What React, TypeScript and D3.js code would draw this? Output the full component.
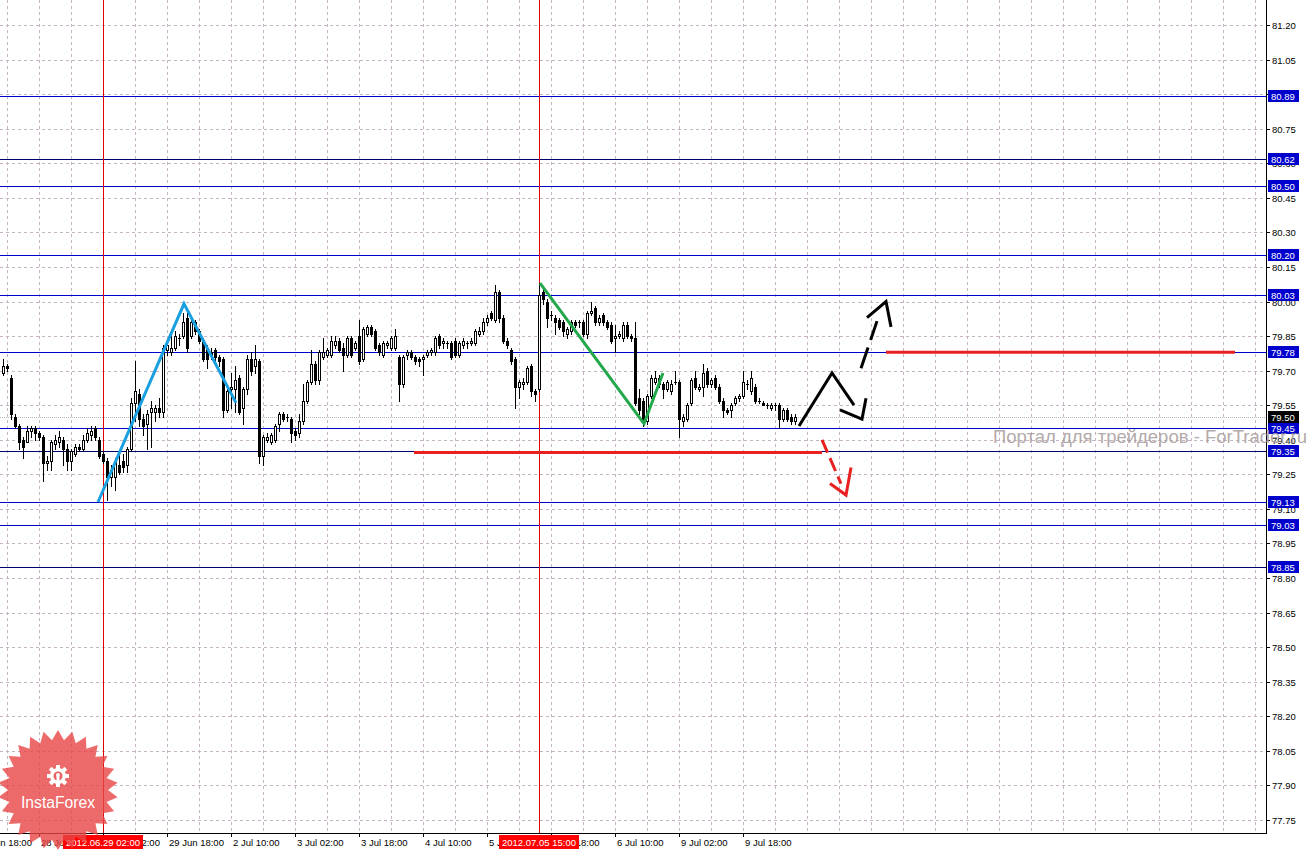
import React from "react";
import * as d3 from "d3";

const W = 1309;
const H = 850;
const PLOT_RIGHT = 1266;
const PLOT_BOTTOM = 833;

// Hourly USD/JPY bars [open, high, low, close], 28 Jun 2012 01:00 ... 10 Jul 2012 07:00
const candles: [number, number, number, number][] = [
  [79.69, 79.75, 79.68, 79.72], [79.72, 79.73, 79.70, 79.71], [79.67, 79.68, 79.49, 79.51], [79.50, 79.51, 79.45, 79.46],
  [79.46, 79.47, 79.36, 79.39], [79.40, 79.41, 79.32, 79.37], [79.39, 79.46, 79.39, 79.44], [79.44, 79.46, 79.41, 79.45],
  [79.45, 79.46, 79.40, 79.43], [79.43, 79.44, 79.40, 79.41], [79.41, 79.42, 79.22, 79.30], [79.30, 79.33, 79.27, 79.31],
  [79.31, 79.40, 79.27, 79.39], [79.38, 79.42, 79.36, 79.40], [79.39, 79.44, 79.37, 79.41], [79.40, 79.41, 79.29, 79.36],
  [79.36, 79.38, 79.27, 79.31], [79.31, 79.36, 79.27, 79.35], [79.34, 79.38, 79.33, 79.37], [79.37, 79.38, 79.35, 79.36],
  [79.36, 79.42, 79.35, 79.40], [79.40, 79.45, 79.39, 79.43], [79.42, 79.46, 79.40, 79.44], [79.45, 79.46, 79.40, 79.41],
  [79.40, 79.41, 79.32, 79.33], [79.34, 79.35, 79.30, 79.31], [79.31, 79.32, 79.14, 79.24], [79.24, 79.29, 79.20, 79.27],
  [79.24, 79.32, 79.18, 79.31], [79.29, 79.34, 79.25, 79.26], [79.31, 79.34, 79.26, 79.28], [79.29, 79.37, 79.26, 79.36],
  [79.36, 79.58, 79.35, 79.56], [79.56, 79.74, 79.48, 79.61], [79.60, 79.62, 79.46, 79.49], [79.49, 79.51, 79.42, 79.46],
  [79.47, 79.53, 79.36, 79.51], [79.52, 79.57, 79.37, 79.54], [79.52, 79.55, 79.48, 79.54], [79.54, 79.58, 79.50, 79.52],
  [79.52, 79.81, 79.50, 79.80], [79.79, 79.83, 79.77, 79.81], [79.78, 79.87, 79.77, 79.80], [79.80, 79.87, 79.79, 79.85],
  [79.84, 79.86, 79.81, 79.84], [79.85, 79.95, 79.84, 79.91], [79.93, 79.96, 79.78, 79.80], [79.85, 79.93, 79.84, 79.91],
  [79.91, 79.92, 79.86, 79.87], [79.87, 79.88, 79.82, 79.83], [79.83, 79.84, 79.74, 79.75], [79.80, 79.81, 79.71, 79.75],
  [79.78, 79.80, 79.75, 79.77], [79.79, 79.80, 79.74, 79.76], [79.76, 79.77, 79.72, 79.74], [79.75, 79.76, 79.50, 79.53],
  [79.53, 79.62, 79.52, 79.61], [79.62, 79.69, 79.54, 79.63], [79.62, 79.72, 79.52, 79.66], [79.67, 79.68, 79.51, 79.52],
  [79.54, 79.63, 79.47, 79.62], [79.62, 79.77, 79.60, 79.75], [79.75, 79.78, 79.68, 79.70], [79.72, 79.81, 79.69, 79.75],
  [79.74, 79.75, 79.30, 79.33], [79.33, 79.42, 79.29, 79.41], [79.40, 79.43, 79.39, 79.41], [79.39, 79.43, 79.38, 79.42],
  [79.40, 79.47, 79.39, 79.46], [79.47, 79.52, 79.44, 79.51], [79.51, 79.52, 79.48, 79.49], [79.50, 79.51, 79.48, 79.50],
  [79.49, 79.50, 79.39, 79.43], [79.44, 79.45, 79.40, 79.42], [79.43, 79.51, 79.41, 79.48], [79.48, 79.64, 79.47, 79.57],
  [79.57, 79.66, 79.56, 79.65], [79.65, 79.79, 79.64, 79.73], [79.73, 79.74, 79.64, 79.66], [79.66, 79.79, 79.64, 79.78],
  [79.76, 79.84, 79.75, 79.78], [79.77, 79.80, 79.76, 79.79], [79.77, 79.85, 79.76, 79.83], [79.81, 79.85, 79.80, 79.83],
  [79.83, 79.84, 79.78, 79.79], [79.80, 79.82, 79.70, 79.77], [79.77, 79.85, 79.76, 79.84], [79.84, 79.85, 79.76, 79.77],
  [79.80, 79.83, 79.79, 79.82], [79.85, 79.92, 79.73, 79.74], [79.75, 79.89, 79.74, 79.88], [79.86, 79.90, 79.85, 79.89],
  [79.89, 79.90, 79.85, 79.86], [79.87, 79.88, 79.79, 79.80], [79.81, 79.82, 79.77, 79.78], [79.77, 79.83, 79.76, 79.82],
  [79.81, 79.83, 79.80, 79.82], [79.80, 79.85, 79.79, 79.84], [79.80, 79.88, 79.79, 79.85], [79.76, 79.77, 79.57, 79.64],
  [79.64, 79.77, 79.63, 79.76], [79.77, 79.79, 79.75, 79.78], [79.78, 79.79, 79.75, 79.76], [79.76, 79.77, 79.73, 79.74],
  [79.75, 79.76, 79.72, 79.74], [79.75, 79.77, 79.68, 79.76], [79.77, 79.79, 79.76, 79.78], [79.78, 79.80, 79.77, 79.79],
  [79.78, 79.85, 79.77, 79.84], [79.85, 79.86, 79.80, 79.81], [79.82, 79.84, 79.80, 79.83], [79.82, 79.83, 79.80, 79.82],
  [79.82, 79.83, 79.75, 79.76], [79.83, 79.84, 79.76, 79.77], [79.77, 79.83, 79.76, 79.82], [79.81, 79.84, 79.80, 79.83],
  [79.82, 79.83, 79.80, 79.82], [79.82, 79.84, 79.81, 79.83], [79.82, 79.88, 79.81, 79.87], [79.86, 79.89, 79.85, 79.87],
  [79.87, 79.93, 79.86, 79.91], [79.91, 79.94, 79.90, 79.93], [79.95, 79.96, 79.92, 79.93], [79.92, 80.07, 79.91, 80.04],
  [80.04, 80.05, 79.91, 79.93], [79.93, 79.94, 79.82, 79.83], [79.83, 79.84, 79.80, 79.81], [79.79, 79.80, 79.73, 79.74],
  [79.75, 79.76, 79.54, 79.63], [79.63, 79.66, 79.58, 79.65], [79.64, 79.67, 79.62, 79.65], [79.65, 79.72, 79.64, 79.71],
  [79.72, 79.73, 79.59, 79.61], [79.61, 79.62, 79.57, 79.60], [79.62, 80.08, 79.61, 80.03], [80.04, 80.06, 79.99, 80.01],
  [80.00, 80.01, 79.89, 79.93], [79.94, 79.96, 79.92, 79.94], [79.93, 79.94, 79.86, 79.91], [79.92, 79.93, 79.88, 79.89],
  [79.91, 79.92, 79.85, 79.87], [79.86, 79.89, 79.84, 79.88], [79.87, 79.92, 79.86, 79.91], [79.91, 79.92, 79.89, 79.90],
  [79.91, 79.92, 79.89, 79.91], [79.91, 79.92, 79.85, 79.86], [79.86, 79.96, 79.84, 79.95], [79.95, 80.00, 79.94, 79.96],
  [79.97, 79.98, 79.90, 79.91], [79.91, 79.94, 79.90, 79.93], [79.94, 79.95, 79.90, 79.91], [79.91, 79.92, 79.88, 79.89],
  [79.90, 79.91, 79.82, 79.83], [79.84, 79.90, 79.78, 79.85], [79.85, 79.87, 79.84, 79.86], [79.84, 79.91, 79.83, 79.90],
  [79.90, 79.91, 79.84, 79.85], [79.85, 79.86, 79.83, 79.84], [79.84, 79.91, 79.55, 79.56], [79.58, 79.62, 79.51, 79.53],
  [79.57, 79.58, 79.46, 79.49], [79.48, 79.60, 79.47, 79.59], [79.59, 79.68, 79.58, 79.67], [79.65, 79.70, 79.64, 79.67],
  [79.67, 79.68, 79.63, 79.64], [79.64, 79.65, 79.58, 79.62], [79.62, 79.66, 79.61, 79.65], [79.61, 79.66, 79.60, 79.64],
  [79.65, 79.70, 79.64, 79.65], [79.65, 79.66, 79.41, 79.49], [79.48, 79.51, 79.46, 79.50], [79.49, 79.56, 79.48, 79.55],
  [79.56, 79.67, 79.55, 79.66], [79.67, 79.70, 79.62, 79.63], [79.62, 79.64, 79.61, 79.63], [79.63, 79.73, 79.59, 79.69],
  [79.70, 79.71, 79.63, 79.64], [79.64, 79.67, 79.63, 79.66], [79.67, 79.68, 79.62, 79.63], [79.63, 79.64, 79.56, 79.57],
  [79.57, 79.58, 79.50, 79.53], [79.53, 79.54, 79.51, 79.52], [79.53, 79.56, 79.50, 79.55], [79.56, 79.59, 79.55, 79.58],
  [79.58, 79.60, 79.57, 79.59], [79.59, 79.70, 79.58, 79.65], [79.64, 79.66, 79.62, 79.64], [79.61, 79.70, 79.60, 79.67],
  [79.63, 79.64, 79.56, 79.57], [79.57, 79.58, 79.56, 79.57], [79.56, 79.57, 79.55, 79.55], [79.55, 79.56, 79.54, 79.55],
  [79.54, 79.56, 79.53, 79.55], [79.55, 79.56, 79.53, 79.55], [79.55, 79.56, 79.45, 79.49], [79.49, 79.54, 79.48, 79.53],
  [79.53, 79.54, 79.48, 79.49], [79.50, 79.51, 79.47, 79.48], [79.48, 79.51, 79.47, 79.50],
];

// Price axis tick labels
const priceTicks = [
  "77.75", "77.90", "78.05", "78.20", "78.35", "78.50", "78.65", "78.80", "78.95", "79.10", "79.25", "79.40",
  "79.55", "79.70", "79.85", "80.00", "80.15", "80.30", "80.45", "80.60", "80.75", "80.90", "81.05", "81.20",
];

// Time axis labels: [bar index, label]
const timeTicks: [number, string][] = [
  [-7, "27 Jun 18:00"], [9, "28 Jun 10:00"], [25, "29 Jun 02:00"], [41, "29 Jun 18:00"], [57, "2 Jul 10:00"],
  [73, "3 Jul 02:00"], [89, "3 Jul 18:00"], [105, "4 Jul 10:00"], [121, "5 Jul 02:00"], [137, "5 Jul 18:00"],
  [153, "6 Jul 10:00"], [169, "9 Jul 02:00"], [185, "9 Jul 18:00"],
];

// Vertical marker lines: [bar index, label]
const markerLines: [number, string][] = [
  [25, "2012.06.29 02:00"],
  [134, "2012.07.05 15:00"],
];

// Horizontal levels
const levelPrices = [80.89, 80.62, 80.5, 80.2, 80.03, 79.78, 79.45, 79.35, 79.13, 79.03, 78.85];
const darkLevels = [80.62, 79.35, 78.85];
const bidPrice = 79.5;

// Drawn analysis lines, in [bar index, price]
const blueWave: [number, number][] = [[23.75, 79.13], [45.25, 79.99], [58.25, 79.56]];
const greenWave: [number, number][] = [[134.25, 80.08], [160.25, 79.47], [165, 79.69]];
const blackZig: [number, number][] = [[199, 79.46], [207.25, 79.69], [212.75, 79.55]];
const blackHeadLow: [number, number][] = [[209.25, 79.53], [214.75, 79.49], [215.75, 79.58]];
const blackDash: [number, number][] = [[214.5, 79.71], [218.5, 79.915]];
const blackHeadUp: [number, number][] = [[216, 79.93], [220.75, 80.0], [222, 79.89]];
const redDash: [number, number][] = [[204.75, 79.4], [209.5, 79.21]];
const redHead: [number, number][] = [[206.75, 79.21], [210.75, 79.16], [212, 79.28]];
const redLevelHigh: [number, number][] = [[220.75, 79.78], [308, 79.78]];
const redLevelLow: [number, number][] = [[102.75, 79.345], [204.75, 79.345]];

const x = d3.scaleLinear().domain([0, 198]).range([3, 795]);
const y = d3.scaleLinear().domain([77.75, 81.2]).range([820, 25]);
const lineGen = d3
  .line<[number, number]>()
  .x((d) => x(d[0]))
  .y((d) => y(d[1]));

const gridColor = "#c4b4c4";
const blue = "#0000cd";

function starPoints(cx: number, cy: number, rOut: number, rIn: number, n: number) {
  const pts: string[] = [];
  for (let i = 0; i < n * 2; i++) {
    const r = i % 2 === 0 ? rOut : rIn;
    const a = (Math.PI * i) / n - Math.PI / 2;
    pts.push(`${cx + r * Math.cos(a)},${cy + r * Math.sin(a)}`);
  }
  return pts.join(" ");
}

export default function App() {
  const vGrid: number[] = [];
  for (let k = 1; x(k) < PLOT_RIGHT; k += 8) vGrid.push(k);

  const font = "'Liberation Sans', Arial, sans-serif";

  return (
    <svg
      width={W}
      height={H}
      style={{ position: "absolute", left: 0, top: 0, background: "#fff" }}
      fontFamily={font}
    >
      <rect x={0} y={0} width={W} height={H} fill="#fff" />
      {/* grid */}
      {priceTicks.map((t) => {
        const yy = Math.round(y(+t)) + 0.5;
        return <line key={"hg" + t} x1={0} x2={PLOT_RIGHT} y1={yy} y2={yy} stroke={gridColor} strokeDasharray="3,3" />;
      })}
      {vGrid.map((k) => {
        const xx = Math.round(x(k)) + 0.5;
        return <line key={"vg" + k} x1={xx} x2={xx} y1={0} y2={PLOT_BOTTOM} stroke={gridColor} strokeDasharray="3,3" />;
      })}

      {/* bid line */}
      <line
        x1={0}
        x2={PLOT_RIGHT}
        y1={Math.round(y(bidPrice)) + 0.5}
        y2={Math.round(y(bidPrice)) + 0.5}
        stroke="#b8b8b8"
        strokeDasharray="1,1"
      />

      {/* horizontal levels */}
      {levelPrices.map((p) => {
        const yy = Math.round(y(p)) + 0.5;
        return (
          <line key={"lv" + p} x1={0} x2={PLOT_RIGHT} y1={yy} y2={yy} stroke={darkLevels.includes(p) ? "#000070" : blue} strokeWidth={1} />
        );
      })}

      {/* marker vertical lines */}
      {markerLines.map(([k]) => {
        const xx = Math.round(x(k)) + 0.5;
        return <line key={"ml" + k} x1={xx} x2={xx} y1={0} y2={PLOT_BOTTOM} stroke="#e00000" />;
      })}

      {/* candles */}
      {candles.map(([o, h, l, c], i) => {
        const cx = Math.round(x(i));
        const yo = Math.round(y(o));
        const yc = Math.round(y(c));
        const top = Math.min(yo, yc);
        const bot = Math.max(yo, yc);
        const bull = c >= o;
        return (
          <g key={"c" + i}>
            <line x1={cx + 0.5} x2={cx + 0.5} y1={Math.round(y(h))} y2={Math.round(y(l)) + 1} stroke="#000" />
            {bot - top < 1 ? (
              <rect x={cx - 1} y={top} width={3} height={1} fill="#000" />
            ) : bull ? (
              <rect x={cx - 0.5} y={top + 0.5} width={2} height={bot - top} fill="#fff" stroke="#000" />
            ) : (
              <rect x={cx - 1} y={top} width={3} height={bot - top + 1} fill="#000" />
            )}
          </g>
        );
      })}

      {/* analysis lines */}
      <path d={lineGen(blueWave) || ""} fill="none" stroke="#1a9fe0" strokeWidth={3} />
      <path d={lineGen(greenWave) || ""} fill="none" stroke="#22a84a" strokeWidth={3} />
      <path d={lineGen(redLevelHigh) || ""} fill="none" stroke="#e82020" strokeWidth={3} />
      <path d={lineGen(redLevelLow) || ""} fill="none" stroke="#e82020" strokeWidth={3} />
      <path d={lineGen(blackZig) || ""} fill="none" stroke="#000" strokeWidth={3} />
      <path d={lineGen(blackHeadLow) || ""} fill="none" stroke="#000" strokeWidth={3} />
      <path d={lineGen(blackDash) || ""} fill="none" stroke="#000" strokeWidth={3} strokeDasharray="22,8" />
      <path d={lineGen(blackHeadUp) || ""} fill="none" stroke="#000" strokeWidth={3} />
      <path d={lineGen(redDash) || ""} fill="none" stroke="#e82020" strokeWidth={3} strokeDasharray="14,6" />
      <path d={lineGen(redHead) || ""} fill="none" stroke="#e82020" strokeWidth={3} />

      {/* axes */}
      <line x1={PLOT_RIGHT + 0.5} x2={PLOT_RIGHT + 0.5} y1={0} y2={PLOT_BOTTOM + 1} stroke="#000" />
      <line x1={0} x2={PLOT_RIGHT + 1} y1={PLOT_BOTTOM + 0.5} y2={PLOT_BOTTOM + 0.5} stroke="#000" />

      {priceTicks.map((t) => {
        const yy = Math.round(y(+t));
        return (
          <g key={"pt" + t}>
            <line x1={PLOT_RIGHT} x2={PLOT_RIGHT + 4} y1={yy + 0.5} y2={yy + 0.5} stroke="#000" />
            <text x={1272} y={yy + 4} fontSize={9.5} fill="#000">
              {t}
            </text>
          </g>
        );
      })}

      {levelPrices.map((p) => {
        const yy = Math.round(y(p));
        return (
          <g key={"lb" + p}>
            <rect x={1268} y={yy - 6} width={31} height={12} fill={blue} />
            <text x={1271} y={yy + 4} fontSize={9.5} fill="#fff">
              {p.toFixed(2)}
            </text>
          </g>
        );
      })}
      <g>
        <rect x={1268} y={Math.round(y(bidPrice)) - 6} width={31} height={12} fill="#000" />
        <text x={1271} y={Math.round(y(bidPrice)) + 4} fontSize={9.5} fill="#fff">
          {bidPrice.toFixed(2)}
        </text>
      </g>

      {/* watermark */}
      <text
        x={993}
        y={443}
        fontSize={18.5}
        fill="#aa9e9e"
        fillOpacity={0.9}
        textLength={314}
        lengthAdjust="spacingAndGlyphs"
      >
        Портал для трейдеров - ForTrader.ru
      </text>

      {timeTicks.map(([k, label]) => {
        const xx = Math.round(x(k));
        return (
          <g key={"tt" + k}>
            <line x1={xx + 0.5} x2={xx + 0.5} y1={PLOT_BOTTOM} y2={PLOT_BOTTOM + 4} stroke="#000" />
            <text x={xx + 2} y={846} fontSize={9.5} fill="#000">
              {label}
            </text>
          </g>
        );
      })}

      {markerLines.map(([k, label]) => {
        const xx = Math.round(x(k));
        return (
          <g key={"mb" + k}>
            <rect x={xx - 40} y={835} width={80} height={14} fill="#ff0000" />
            <text x={xx} y={846} fontSize={9.5} fill="#fff" textAnchor="middle">
              {label}
            </text>
          </g>
        );
      })}

      {/* InstaForex logo */}
      <g>
        <polygon points={starPoints(58, 790, 60, 50, 26)} fill="#e84545" opacity={0.8} />
        <g transform="translate(58,776)" fill="#fff">
          {d3.range(8).map((i) => (
            <rect key={"gt" + i} x={-2} y={-11} width={4} height={5} transform={`rotate(${i * 45})`} />
          ))}
          <circle r={8} fill="#fff" />
          <circle r={4.5} fill="#e86060" />
          <circle cy={-1} r={2} fill="#fff" />
          <rect x={-1.5} y={0} width={3} height={9} fill="#fff" />
        </g>
        <text x={58} y={808} fontSize={16} fill="#fff" textAnchor="middle" textLength={74} lengthAdjust="spacingAndGlyphs">
          InstaForex
        </text>
      </g>
    </svg>
  );
}
